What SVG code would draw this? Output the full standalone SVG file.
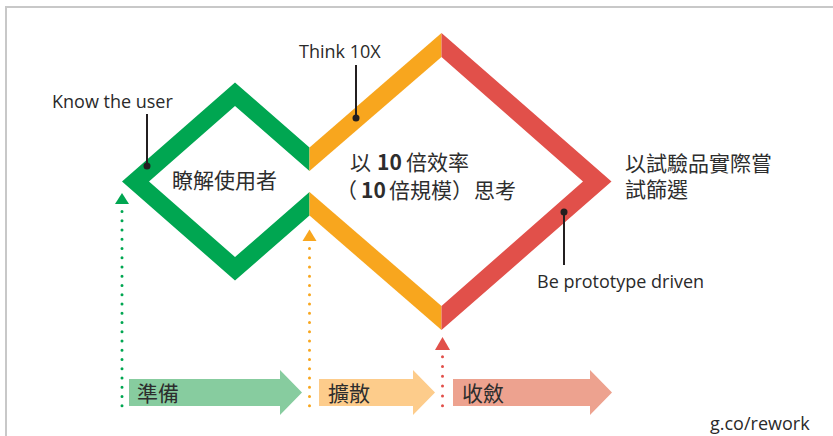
<svg xmlns="http://www.w3.org/2000/svg" width="833" height="436" viewBox="0 0 833 436">
<defs>
<style>
.lat{font-family:"Open Sans","Noto Sans","Liberation Sans",sans-serif;font-size:18px;fill:#2a2a2a}
.cjk{font-family:"Noto Sans CJK TC","Noto Sans CJK SC",sans-serif;font-size:21px;fill:#2d2d2d}
.num{font-family:"Noto Sans CJK TC","Noto Sans CJK SC",sans-serif;font-weight:700}
.call{stroke:#231f20;stroke-width:2;fill:none}
.dot{fill:#231f20}
.dots{stroke-width:3;stroke-linecap:round;fill:none}
.green{fill:#00a651}
.orange{fill:#f8a61e}
.red{fill:#e1504a}
</style>
</defs>
<rect width="833" height="436" fill="#ffffff"/>
<path d="M6 436V7H833" fill="none" stroke="#c8c8c8" stroke-width="2"/>

<g id="diamond-green">
<polygon class="green" points="122,181.5 235,82.5 309.5,147.5 309.5,171 235,106 149,181.5 235,257 309.5,192 309.5,215.5 235,280.5"/>
<text class="cjk" x="172" y="188">瞭解使用者</text>
</g>

<g id="diamond-orange">
<polygon class="orange" points="309.5,147.5 441.5,33 441.5,57 309.5,171"/>
<polygon class="orange" points="309.5,192 441.5,306 441.5,330 309.5,215.5"/>
<text class="cjk" y="170" font-size="20.5"><tspan x="350">以</tspan><tspan class="num" x="377">10</tspan><tspan x="406">倍效率</tspan></text>
<text class="cjk" y="198" font-size="20.5"><tspan x="336">（</tspan><tspan class="num" x="361">10</tspan><tspan x="389">倍規模</tspan><tspan x="452">）</tspan><tspan x="474">思考</tspan></text>
</g>

<g id="diamond-red">
<polygon class="red" points="441.5,33 611.5,181.5 441.5,330 441.5,306 583,181.5 441.5,57"/>
<text class="cjk" x="625" y="171"><tspan x="625" y="171">以試驗品實際嘗</tspan><tspan x="625" y="197">試篩選</tspan></text>
</g>

<g id="label-know-user">
<text class="lat" x="52" y="108">Know the user</text>
</g>
<g id="label-think-10x">
<text class="lat" x="299" y="58">Think 10X</text>
</g>
<g id="label-prototype">
<text class="lat" x="537" y="288">Be prototype driven</text>
</g>

<g id="phase-prepare">
<path d="M129 379H280V370L302 392.5L280 415V406H129Z" fill="#87cc9f"/>
<text class="cjk" x="137" y="401">準備</text>
</g>
<g id="phase-diverge">
<path d="M319 379H413V370L435 392.5L413 415V406H319Z" fill="#fdcc8b"/>
<text class="cjk" x="328" y="401">擴散</text>
</g>
<g id="phase-converge">
<path d="M453 379H590V370L612 392.5L590 415V406H453Z" fill="#eda28f"/>
<text class="cjk" x="462" y="401">收斂</text>
</g>

<g id="source">
<text class="lat" x="710" y="430" font-size="15">g.co/rework</text>
</g>

<g id="connectors">
<line class="call" x1="147" y1="114" x2="147" y2="166"/>
<circle class="dot" cx="147" cy="166" r="3.5"/>
<line class="call" x1="356" y1="65" x2="356" y2="118"/>
<circle class="dot" cx="356" cy="118" r="3.5"/>
<line class="call" x1="564" y1="212" x2="564" y2="265"/>
<circle class="dot" cx="564" cy="212" r="3.5"/>

<line class="dots" x1="122" y1="211.5" x2="122" y2="406" stroke="#00a651" stroke-dasharray="0 9.25"/>
<polygon points="122,193 129,204 115,204" fill="#00a651"/>
<line class="dots" x1="309.5" y1="248.5" x2="309.5" y2="406" stroke="#f8a61e" stroke-dasharray="0 9.25"/>
<polygon points="309.5,229.5 316.5,241 302.5,241" fill="#f8a61e"/>
<line class="dots" x1="442.5" y1="356.7" x2="442.5" y2="406" stroke="#e1504a" stroke-dasharray="0 9.8"/>
<polygon points="442.5,337 450,350 435,350" fill="#e1504a"/>
</g>
</svg>
